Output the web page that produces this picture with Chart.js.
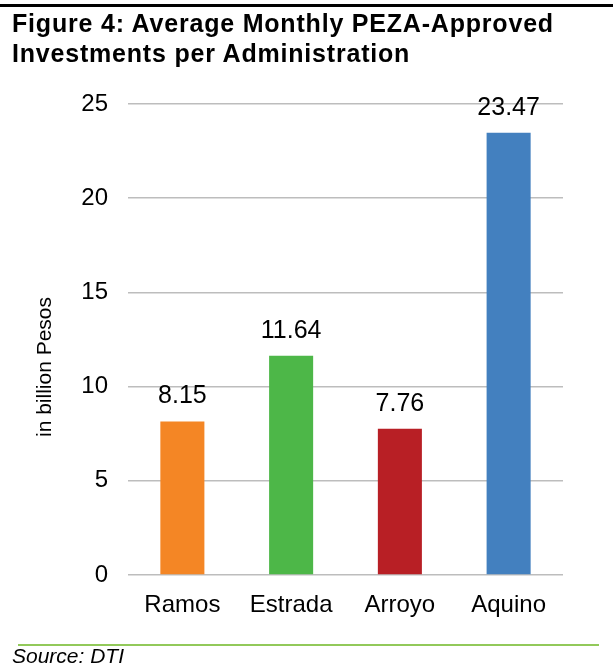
<!DOCTYPE html>
<html>
<head>
<meta charset="utf-8">
<script src="https://cdn.jsdelivr.net/npm/chart.js@4.4.1/dist/chart.umd.min.js"></script>
<style>
  html, body { margin: 0; padding: 0; background: #fff; }
  #wrap { position: relative; width: 613px; height: 670px; overflow: hidden; }
  #topline { position: absolute; left: 0; top: 4px; width: 613px; height: 3px; background: #000; }
  #title { position: absolute; left: 12px; top: 8px; font: bold 25px Arial, "Liberation Sans", sans-serif;
           line-height: 30px; letter-spacing: 0.8px; color: #000; white-space: nowrap; }
  #botline { position: absolute; left: 18px; top: 644px; width: 581px; height: 2px; background: #92c95a; }
  #source { position: absolute; left: 12px; top: 644px; font: italic 21px Arial, "Liberation Sans", sans-serif;
            line-height: 24px; color: #000; }
  canvas { position: absolute; left: 0; top: 0; }
</style>
</head>
<body>
<div id="wrap">
  <canvas id="bar-chart" width="613" height="670"></canvas>
  <div id="topline"></div>
  <div id="title">Figure 4: Average Monthly PEZA-Approved<br>Investments per Administration</div>
  <div id="botline"></div>
  <div id="source">Source: DTI</div>
</div>
<script>
var administrations = ['Ramos', 'Estrada', 'Arroyo', 'Aquino'];
var investments = [8.15, 11.64, 7.76, 23.47];
var barColors = ['#f48625', '#4db748', '#b81f25', '#4380bf'];
var yTicks = [0, 5, 10, 15, 20, 25];
var yTitle = 'in billion Pesos';

var fontFamily = 'Arial, "Liberation Sans", sans-serif';

// values above each bar
var valueLabels = {
    id: 'valueLabels',
    afterDatasetsDraw: function(chart) {
        var ctx = chart.ctx;
        var meta = chart.getDatasetMeta(0);
        ctx.save();
        ctx.font = '25px ' + fontFamily;
        ctx.fillStyle = '#000';
        ctx.textAlign = 'center';
        ctx.textBaseline = 'alphabetic';
        meta.data.forEach(function(bar, i) {
            ctx.fillText(investments[i].toFixed(2), bar.x, bar.y - 18);
        });
        ctx.restore();
    }
};

// rotated y axis title
var axisTitle = {
    id: 'axisTitle',
    afterDraw: function(chart) {
        var ctx = chart.ctx;
        ctx.save();
        ctx.translate(45, 367);
        ctx.rotate(-Math.PI / 2);
        ctx.font = '21px ' + fontFamily;
        ctx.fillStyle = '#000';
        ctx.textAlign = 'center';
        ctx.textBaseline = 'middle';
        ctx.fillText(yTitle, 0, 0);
        ctx.restore();
    }
};

var chart = new Chart(document.getElementById('bar-chart'), {
    type: 'bar',
    data: {
        labels: administrations,
        datasets: [{
            data: investments,
            backgroundColor: barColors,
            borderWidth: 0,
            categoryPercentage: 1,
            barPercentage: 0.405
        }]
    },
    options: {
        responsive: false,
        animation: false,
        devicePixelRatio: 1,
        layout: { padding: { left: 0, right: 50, top: 104, bottom: 45 } },
        plugins: {
            legend: { display: false },
            tooltip: { enabled: false }
        },
        scales: {
            x: {
                grid: { display: false, drawTicks: false },
                border: { display: false },
                ticks: { color: '#000', padding: 16, font: { family: fontFamily, size: 24 } },
                afterFit: function(scale) { scale.height = 50; }
            },
            y: {
                min: 0,
                max: 25,
                afterBuildTicks: function(scale) {
                    scale.ticks = yTicks.map(function(v) { return { value: v }; });
                },
                grid: { color: '#bdbdbd', lineWidth: 1.5, drawTicks: false },
                border: { display: false },
                ticks: { color: '#000', padding: 20, font: { family: fontFamily, size: 24 } },
                afterFit: function(scale) { scale.width = 128; }
            }
        }
    },
    plugins: [valueLabels, axisTitle]
});
</script>
</body>
</html>
